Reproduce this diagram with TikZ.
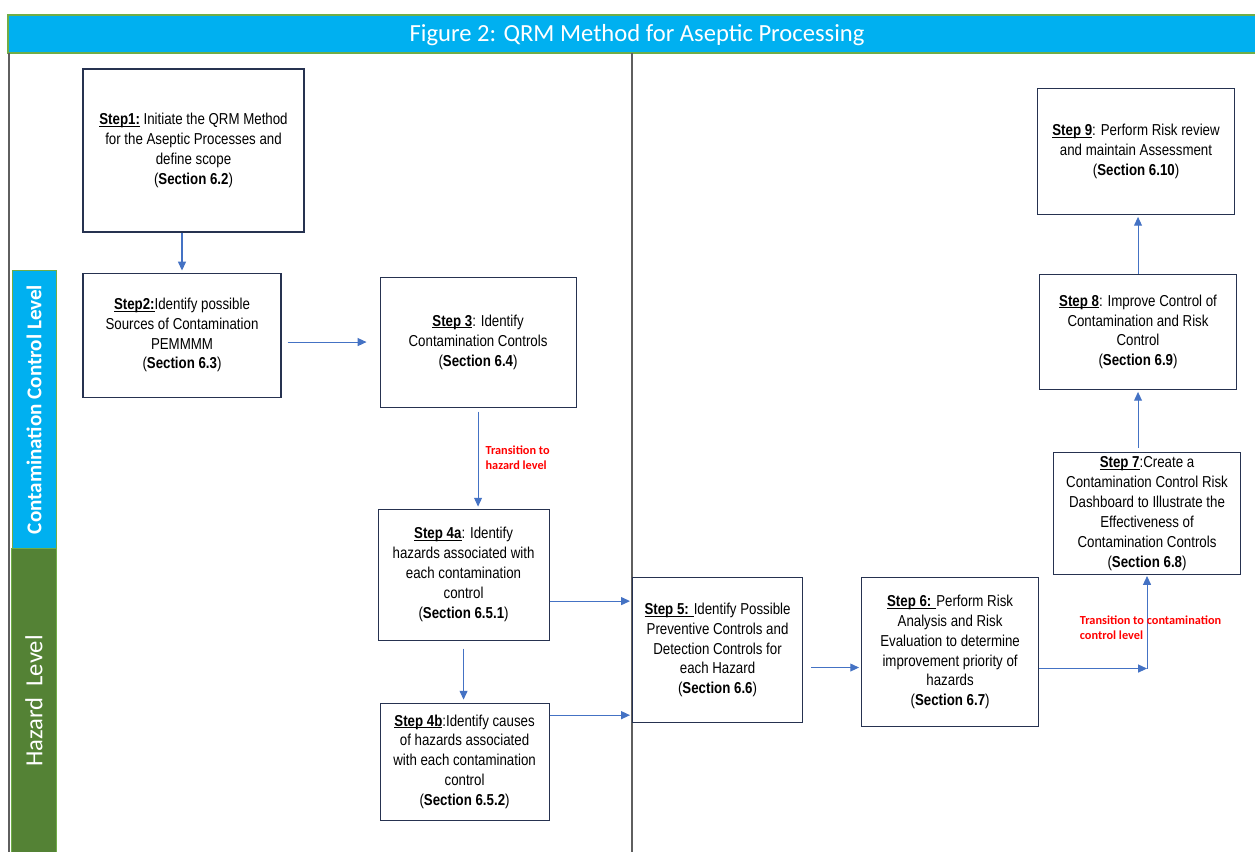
\documentclass[tikz,border=0pt]{standalone}
\usepackage{fontspec}
\usepackage{tikz}
\usetikzlibrary{arrows.meta}
\usetikzlibrary{positioning}
\newfontfamily\boxfont[FakeStretch=0.84]{Liberation Sans}
\newfontfamily\calfont{Carlito}
\definecolor{titlecyan}{RGB}{0,176,240}
\definecolor{bandgreen}{RGB}{84,130,53}
\definecolor{edgegreen}{RGB}{112,173,71}
\definecolor{flowblue}{RGB}{68,114,196}
\definecolor{boxline}{RGB}{38,50,80}
\definecolor{divider}{RGB}{95,95,95}
\tikzset{>={Triangle[length=5pt,width=4.5pt]}, node distance=1cm}
\tikzstyle{block} = [draw=boxline, line width=0.6pt, fill=white, rectangle, inner sep=0pt, align=center, font=\boxfont\fontsize{9}{11.3}\selectfont]
\tikzstyle{flow} = [->, draw=flowblue, line width=0.6pt]
\tikzstyle{redlbl} = [text=red, align=left, inner sep=0pt, font=\calfont\bfseries\fontsize{7}{8.5}\selectfont]
\tikzstyle{band} = [draw=edgegreen, line width=0.5pt]
\newcommand{\stp}[1]{\setbox0\hbox{\textbf{#1}}\rlap{\rule[-1.1pt]{\wd0}{0.45pt}}\box0\relax}
\newcommand{\sect}[1]{(\textbf{Section #1})}

\begin{document}
\begin{tikzpicture}
    \useasboundingbox (0,0) rectangle (25.1,-17.02);

    % title bar and swim lanes
    \fill[white] (0,0) rectangle (25.1,-17.02);
    \draw[band, fill=titlecyan, line width=0.8pt] (0.16,-0.30) rectangle (25.2,-1.06);
    \node [text=white, font=\calfont\fontsize{14}{16}\selectfont] (title) at (12.74,-0.70) {Figure 2: QRM Method for Aseptic Processing};
    \draw [divider, line width=1pt] (0.18,-1.06) -- (0.18,-17.1);
    \draw [divider, line width=1pt] (12.64,-1.06) -- (12.64,-17.1);
    \draw [band, fill=titlecyan] (0.24,-5.40) rectangle (1.12,-10.96);
    \draw [band, fill=bandgreen] (0.22,-10.96) rectangle (1.12,-17.1);
    \node [rotate=90, text=white, font=\calfont\bfseries\fontsize{12}{14}\selectfont] (cclevel) at (0.68,-8.19) {Contamination Control Level};
    \node [rotate=90, text=white, font=\calfont\fontsize{14}{16}\selectfont] (hzlevel) at (0.68,-14.02) {Hazard\ \ Level};

    % steps
    \node [block, minimum width=4.42cm, minimum height=3.26cm] (step1) at (3.87,-3.01) {\stp{Step1:} Initiate the QRM Method\\for the Aseptic Processes and\\define scope\\\sect{6.2}};
    \node [block, minimum width=3.96cm, minimum height=2.48cm, below=0.8cm of step1.south west, anchor=north west] (step2) {\stp{Step2:}Identify possible\\Sources of Contamination\\PEMMMM\\\sect{6.3}};
    \node [block, minimum width=3.92cm, minimum height=2.6cm, right=1.96cm of step2.north east, anchor=north west, yshift=-0.08cm] (step3) {\stp{Step 3}: Identify\\Contamination Controls\\\sect{6.4}};
    \node [block, minimum width=3.42cm, minimum height=2.62cm, below=2.02cm of step3.south west, anchor=north west, xshift=-0.04cm] (step4a) {\stp{Step 4a}: Identify\\hazards associated with\\each contamination\\control\\\sect{6.5.1}};
    \node [block, minimum width=3.38cm, minimum height=2.34cm, below=1.24cm of step4a.south west, anchor=north west, xshift=0.04cm] (step4b) {\stp{Step 4b}:Identify causes\\of hazards associated\\with each contamination\\control\\\sect{6.5.2}};
    \node [block, minimum width=3.4cm, minimum height=2.9cm, anchor=north west] (step5) at (12.64,-11.54) {\stp{Step 5: }Identify Possible\\Preventive Controls and\\Detection Controls for\\each Hazard\\\sect{6.6}};
    \node [block, minimum width=3.54cm, minimum height=2.98cm, right=1.16cm of step5.north east, anchor=north west] (step6) {\stp{Step 6: }Perform Risk\\Analysis and Risk\\Evaluation to determine\\improvement priority of\\hazards\\\sect{6.7}};
    \node [block, minimum width=3.74cm, minimum height=2.44cm, anchor=south west] (step7) at (21.06,-11.50) {\stp{Step 7}:Create a\\Contamination Control Risk\\Dashboard to Illustrate the\\Effectiveness of\\Contamination Controls\\\sect{6.8}};
    \node [block, minimum width=3.94cm, minimum height=2.3cm, above=1.24cm of step7.north, xshift=-0.18cm] (step8) {\stp{Step 8}: Improve Control of\\Contamination and Risk\\Control\\\sect{6.9}};
    \node [block, minimum width=3.94cm, minimum height=2.52cm, above=1.18cm of step8.north, xshift=-0.04cm] (step9) {\stp{Step 9}: Perform Risk review\\and maintain Assessment\\\sect{6.10}};

    \coordinate (out4a) at ([yshift=-.53cm]step4a.east);
    \coordinate (out4b) at ([yshift=.93cm]step4b.east);
    \coordinate (out5) at ([yshift=-.35cm]step5.east);
    \coordinate (out6) at ([yshift=-.33cm]step6.east);
    \coordinate (turn) at (out6 -| step7.south);

    \draw [flow, shorten >=.04cm] (step1.south -| step2.north) -- (step2.north);
    \draw [flow, shorten <=.12cm, shorten >=.26cm] (step2.east |- step3.west) -- (step3.west);
    \draw [flow, shorten <=.08cm, shorten >=.04cm] (step3.south) -- node [redlbl, right=0.14cm] (trans1) {Transition to\\hazard level} (step3.south |- step4a.north);
    \draw [flow, shorten <=.16cm, shorten >=.06cm] (step4a.south) -- (step4a.south |- step4b.north);
    \draw [flow, shorten >=.04cm] (out4a) -- (out4a -| step5.west);
    \draw [flow, shorten >=.04cm] (out4b) -- (out4b -| step5.west);
    \draw [flow, shorten <=.16cm, shorten >=.04cm] (out5) -- (out5 -| step6.west);
    \draw [flow] (out6) -- (turn);
    \draw [flow, shorten >=.02cm] (turn) -- (step7.south);
    \node [redlbl, anchor=west] (trans2) at ([xshift=-1.35cm, yshift=.81cm]turn) {Transition to contamination\\control level};
    \draw [flow, shorten <=.08cm, shorten >=.04cm] (step8.south |- step7.north) -- (step8.south);
    \draw [flow, shorten >=.04cm] (step8.north) -- (step8.north |- step9.south);
\end{tikzpicture}
\end{document}
